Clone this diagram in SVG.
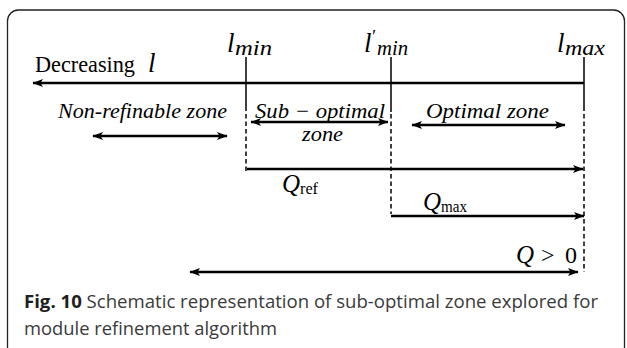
<svg xmlns="http://www.w3.org/2000/svg" width="627" height="348" viewBox="0 0 627 348">
  <defs>
    <marker id="head" markerUnits="userSpaceOnUse" markerWidth="11" markerHeight="9" refX="10" refY="4.5" orient="auto-start-reverse" viewBox="0 0 11 9">
      <path d="M0,0.5 L10.5,4.5 L0,8.5 L2.5,4.5 Z" fill="#000"/>
    </marker>
  </defs>
  <style>
    .axis { stroke: #000; stroke-width: 2.6; fill: none; }
    .tick { stroke: #000; stroke-width: 1.5; fill: none; }
    .dash { stroke: #000; stroke-width: 1.5; fill: none; stroke-dasharray: 4.5 3; }
    .math { font-family: "Liberation Serif", serif; font-style: italic; fill: #000; }
    .roman { font-family: "Liberation Serif", serif; font-style: normal; fill: #000; }
    .cap { font-family: "Open Sans", "Noto Sans", sans-serif; font-size: 18.5px; fill: #3a3a3a; }
    .capb { font-weight: bold; fill: #1e1e1e; }
  </style>

  <rect width="627" height="348" fill="#fff"/>
  <!-- panel frame -->
  <rect x="7.5" y="10" width="617" height="350" rx="11" ry="11" fill="none" stroke="#222" stroke-width="1.3"/>

  <!-- connectors: axis, ticks, boundaries and ranges -->
  <g id="connectors">
    <line class="axis" x1="584" y1="83" x2="33" y2="83" marker-end="url(#head)"/>

    <line class="tick" x1="246" y1="57" x2="246" y2="111"/>
    <line class="dash" x1="246" y1="114" x2="246" y2="172"/>
    <line class="tick" x1="391" y1="57" x2="391" y2="112"/>
    <line class="dash" x1="391" y1="114" x2="391" y2="214"/>
    <line class="tick" x1="584" y1="57" x2="584" y2="111"/>
    <line class="dash" x1="584" y1="114" x2="584" y2="272"/>

    <line class="axis" x1="93" y1="136" x2="227" y2="136" marker-start="url(#head)" marker-end="url(#head)"/>
    <line class="axis" x1="251" y1="122" x2="388" y2="122" marker-start="url(#head)" marker-end="url(#head)"/>
    <line class="axis" x1="412" y1="125" x2="565" y2="125" marker-start="url(#head)" marker-end="url(#head)"/>

    <line class="axis" x1="247" y1="169" x2="583" y2="169" marker-end="url(#head)"/>
    <line class="axis" x1="391" y1="216" x2="584" y2="216" marker-end="url(#head)"/>
    <line class="axis" x1="190" y1="272" x2="578" y2="272" marker-start="url(#head)" marker-end="url(#head)"/>
  </g>

  <g id="title">
    <text x="35" y="72" font-size="23"><tspan class="roman" textLength="100" lengthAdjust="spacingAndGlyphs">Decreasing</tspan><tspan class="math" x="148" font-size="27">l</tspan></text>
  </g>

  <g id="l-min">
    <text class="math" x="227" y="52" font-size="27">l<tspan x="235" y="55" font-size="20" textLength="37" lengthAdjust="spacingAndGlyphs">min</tspan></text>
  </g>

  <g id="l-min-prime">
    <text class="math" x="364" y="52" font-size="27">l<tspan x="371" y="43" font-size="18">′</tspan><tspan x="377" y="55" font-size="20" textLength="31" lengthAdjust="spacingAndGlyphs">min</tspan></text>
  </g>

  <g id="l-max">
    <text class="math" x="557" y="52" font-size="27">l<tspan x="565" y="55" font-size="20" textLength="40" lengthAdjust="spacingAndGlyphs">max</tspan></text>
  </g>

  <g id="non-refinable-zone">
    <text class="math" x="58" y="118" font-size="21" textLength="169" lengthAdjust="spacingAndGlyphs">Non-refinable zone</text>
  </g>

  <g id="sub-optimal-zone">
    <text class="math" x="255" y="118" font-size="21" textLength="130" lengthAdjust="spacingAndGlyphs">Sub − optimal</text>
    <text class="math" x="302" y="141" font-size="21" textLength="41" lengthAdjust="spacingAndGlyphs">zone</text>
  </g>

  <g id="optimal-zone">
    <text class="math" x="426" y="118" font-size="21" textLength="123" lengthAdjust="spacingAndGlyphs">Optimal zone</text>
  </g>

  <g id="q-ref">
    <text class="math" x="282" y="192" font-size="25">Q<tspan class="roman" x="300" y="194" font-size="17" textLength="18" lengthAdjust="spacingAndGlyphs">ref</tspan></text>
  </g>

  <g id="q-max">
    <text class="math" x="423" y="210" font-size="25">Q<tspan class="roman" x="441" y="212" font-size="17" textLength="26" lengthAdjust="spacingAndGlyphs">max</tspan></text>
  </g>

  <g id="q-positive">
    <text class="math" x="516" y="263" font-size="25">Q<tspan class="roman" x="541" font-size="24">&gt;</tspan><tspan class="roman" x="565" font-size="24">0</tspan></text>
  </g>

  <g id="caption">
    <text class="cap" x="24" y="308" textLength="574" lengthAdjust="spacingAndGlyphs"><tspan class="capb">Fig. 10</tspan> Schematic representation of sub-optimal zone explored for</text>
    <text class="cap" x="24" y="335" textLength="253" lengthAdjust="spacingAndGlyphs">module refinement algorithm</text>
  </g>
</svg>
